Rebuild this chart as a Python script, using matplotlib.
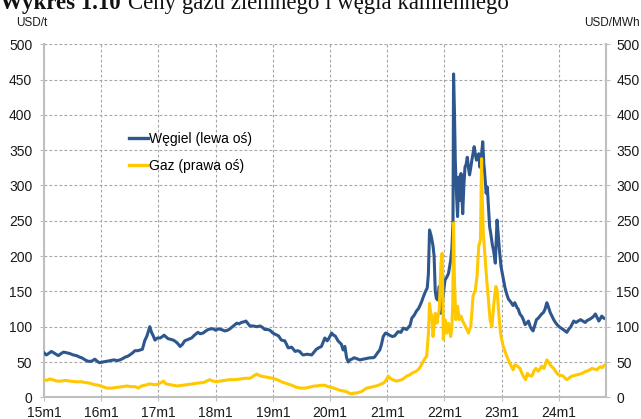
import matplotlib
matplotlib.use("Agg")
import matplotlib.pyplot as plt
from matplotlib.lines import Line2D

# ---------------- data ----------------
coal_t = [2015.00, 2015.04, 2015.08, 2015.13, 2015.19, 2015.25, 2015.30, 2015.34, 2015.40, 2015.45,
          2015.51, 2015.57, 2015.62, 2015.66, 2015.72, 2015.77, 2015.83, 2015.89, 2015.93, 2015.97,
          2016.03, 2016.10, 2016.16, 2016.22, 2016.28, 2016.33, 2016.38, 2016.42, 2016.46, 2016.50,
          2016.55, 2016.59, 2016.64, 2016.68, 2016.72, 2016.76, 2016.80, 2016.83, 2016.85, 2016.88,
          2016.91, 2016.94, 2016.98, 2017.03, 2017.07, 2017.10, 2017.14, 2017.17, 2017.22, 2017.26,
          2017.30, 2017.34, 2017.38, 2017.42, 2017.46, 2017.52, 2017.58, 2017.63, 2017.69, 2017.73,
          2017.78, 2017.83, 2017.87, 2017.92, 2017.96, 2018.00, 2018.05, 2018.10, 2018.16, 2018.21,
          2018.25, 2018.31, 2018.37, 2018.41, 2018.45, 2018.50, 2018.53, 2018.57, 2018.60, 2018.66,
          2018.72, 2018.78, 2018.82, 2018.86, 2018.91, 2018.95, 2019.00, 2019.05, 2019.10, 2019.15,
          2019.21, 2019.24, 2019.27, 2019.33, 2019.36, 2019.39, 2019.43, 2019.47, 2019.50, 2019.53,
          2019.60, 2019.68, 2019.72, 2019.76, 2019.80, 2019.85, 2019.88, 2019.91, 2019.95, 2019.97,
          2020.03, 2020.06, 2020.09, 2020.12, 2020.14, 2020.20, 2020.23, 2020.26, 2020.29, 2020.32,
          2020.35, 2020.38, 2020.42, 2020.46, 2020.52, 2020.58, 2020.64, 2020.70, 2020.75, 2020.78,
          2020.84, 2020.87, 2020.90, 2020.93, 2020.97, 2021.00, 2021.04, 2021.09, 2021.13, 2021.19,
          2021.24, 2021.28, 2021.34, 2021.40, 2021.43, 2021.47, 2021.51, 2021.55, 2021.60, 2021.63,
          2021.67, 2021.70, 2021.72, 2021.74, 2021.77, 2021.80, 2021.82, 2021.84, 2021.86, 2021.88,
          2021.91, 2021.94, 2021.97, 2022.01, 2022.04, 2022.07, 2022.11, 2022.13, 2022.15, 2022.16,
          2022.175, 2022.19, 2022.21, 2022.23, 2022.25, 2022.27, 2022.29, 2022.32, 2022.34, 2022.36,
          2022.38, 2022.40, 2022.42, 2022.44, 2022.46, 2022.48, 2022.50, 2022.52, 2022.54, 2022.56,
          2022.58, 2022.60, 2022.62, 2022.645, 2022.67, 2022.69, 2022.70, 2022.73, 2022.75, 2022.77,
          2022.79, 2022.81, 2022.84, 2022.86, 2022.89, 2022.91, 2022.92, 2022.94, 2022.96, 2022.99,
          2023.03, 2023.06, 2023.09, 2023.12, 2023.16, 2023.20, 2023.23, 2023.27, 2023.29, 2023.32,
          2023.35, 2023.38, 2023.41, 2023.44, 2023.47, 2023.50, 2023.53, 2023.55, 2023.58, 2023.61,
          2023.64, 2023.67, 2023.70, 2023.73, 2023.76, 2023.79, 2023.81, 2023.85, 2023.88, 2023.91,
          2023.94, 2023.98, 2024.02, 2024.06, 2024.11, 2024.14, 2024.17, 2024.21, 2024.26, 2024.30,
          2024.34, 2024.38, 2024.42, 2024.46, 2024.50, 2024.55, 2024.60, 2024.64, 2024.67, 2024.70,
          2024.73, 2024.75, 2024.79, 2024.82]
coal_v = [63, 60, 62, 65, 62, 59, 62, 64, 63, 62,
          60, 59, 57, 56, 53, 51, 51, 54, 51, 49,
          50, 51, 52, 53, 52, 53, 55, 57, 58, 60,
          63, 66, 66, 67, 68, 80, 87, 95, 100, 92,
          87, 81, 84, 84, 86, 88, 85, 83, 82, 81,
          79, 76, 72, 75, 80, 82, 84, 88, 92, 90,
          91, 94, 96, 97, 97, 95, 97, 96, 94, 95,
          97, 101, 105, 104, 106, 107, 108, 104, 101, 101,
          100, 101, 99, 96, 96, 95, 91, 89, 87, 81,
          80, 75, 70, 71, 68, 65, 66, 65, 62, 60,
          61, 60, 64, 68, 70, 72, 78, 84, 80, 82,
          91, 88, 87, 83, 80, 75, 67, 72, 56, 50,
          53, 54, 56, 55, 53, 54, 55, 56, 56, 57,
          64, 67, 75, 86, 91, 90, 88, 86, 87, 93,
          92, 98, 96, 102, 112, 116, 122, 126, 135, 142,
          150, 155, 175, 237, 228, 215, 200, 150, 140, 138,
          157, 119, 138, 166, 170, 175, 194, 210, 246, 458,
          407, 336, 290, 256, 312, 279, 317, 260, 300, 326,
          330, 340, 325, 315, 325, 336, 345, 355, 345, 336,
          340, 345, 326, 340, 362, 330, 322, 289, 298, 270,
          242, 232, 215, 208, 190, 230, 251, 232, 210, 185,
          168, 155, 146, 139, 135, 130, 134, 127, 125, 118,
          115, 110, 103, 105, 108, 100, 96, 94, 102, 110,
          112, 115, 118, 120, 125, 134, 130, 120, 115, 110,
          106, 102, 99, 97, 94, 92, 96, 100, 108, 106,
          108, 110, 108, 106, 109, 111, 114, 118, 113, 108,
          112, 115, 112, 111]

gas_t = [2015.00, 2015.05, 2015.10, 2015.15, 2015.22, 2015.30, 2015.38, 2015.45, 2015.55, 2015.65,
         2015.72, 2015.80, 2015.88, 2015.96, 2016.03, 2016.10, 2016.18, 2016.27, 2016.35, 2016.45,
         2016.53, 2016.60, 2016.65, 2016.70, 2016.76, 2016.85, 2016.92, 2016.97, 2017.05, 2017.09,
         2017.13, 2017.20, 2017.33, 2017.42, 2017.50, 2017.60, 2017.67, 2017.79, 2017.90, 2017.95,
         2018.02, 2018.08, 2018.17, 2018.25, 2018.35, 2018.43, 2018.52, 2018.60, 2018.66, 2018.72,
         2018.76, 2018.80, 2018.86, 2018.92, 2019.00, 2019.04, 2019.10, 2019.15, 2019.22, 2019.30,
         2019.36, 2019.42, 2019.50, 2019.56, 2019.62, 2019.68, 2019.72, 2019.76, 2019.85, 2019.91,
         2019.97, 2020.03, 2020.10, 2020.17, 2020.23, 2020.29, 2020.33, 2020.38, 2020.42, 2020.46,
         2020.50, 2020.55, 2020.60, 2020.64, 2020.70, 2020.75, 2020.80, 2020.84, 2020.90, 2020.95,
         2021.00, 2021.02, 2021.05, 2021.09, 2021.16, 2021.22, 2021.28, 2021.34, 2021.40, 2021.43,
         2021.48, 2021.51, 2021.55, 2021.57, 2021.60, 2021.63, 2021.66, 2021.69, 2021.72, 2021.74,
         2021.76, 2021.78, 2021.80, 2021.82, 2021.84, 2021.87, 2021.89, 2021.91, 2021.94, 2021.96,
         2021.975, 2021.98, 2022.00, 2022.01, 2022.04, 2022.07, 2022.09, 2022.11, 2022.13, 2022.145,
         2022.16, 2022.175, 2022.20, 2022.23, 2022.26, 2022.29, 2022.32, 2022.34, 2022.37, 2022.40,
         2022.42, 2022.44, 2022.46, 2022.48, 2022.50, 2022.54, 2022.57, 2022.60, 2022.63, 2022.65,
         2022.66, 2022.68, 2022.71, 2022.74, 2022.77, 2022.80, 2022.83, 2022.86, 2022.88, 2022.90,
         2022.92, 2022.95, 2022.97, 2022.99, 2023.03, 2023.06, 2023.09, 2023.14, 2023.20, 2023.23,
         2023.28, 2023.32, 2023.35, 2023.38, 2023.42, 2023.45, 2023.48, 2023.53, 2023.57, 2023.60,
         2023.64, 2023.67, 2023.70, 2023.74, 2023.77, 2023.79, 2023.82, 2023.85, 2023.88, 2023.91,
         2023.95, 2023.99, 2024.04, 2024.08, 2024.11, 2024.14, 2024.19, 2024.23, 2024.28, 2024.32,
         2024.37, 2024.41, 2024.45, 2024.49, 2024.54, 2024.58, 2024.62, 2024.67, 2024.70, 2024.73,
         2024.76, 2024.79, 2024.82]
gas_v = [25, 24, 26, 25, 23, 23, 24, 23, 22, 22,
         21, 20, 18, 17, 15, 13, 13, 14, 15, 16,
         15, 15, 13, 16, 17, 19, 18, 18, 21, 23,
         19, 18, 16, 17, 18, 19, 20, 21, 25, 23,
         22, 23, 24, 25, 25, 26, 27, 27, 30, 33,
         31, 30, 29, 28, 27, 26, 24, 22, 20, 18,
         16, 14, 13, 13, 14, 15, 16, 16, 17, 17,
         15, 14, 12, 10, 9, 8, 6, 5, 6, 6,
         7, 8, 11, 13, 14, 15, 16, 17, 19, 21,
         27, 30, 27, 25, 23, 24, 26, 30, 32, 34,
         36, 37, 40, 42, 46, 51, 55, 58, 90, 133,
         120, 115, 86, 100, 119, 105, 115, 124, 190, 204,
         130, 82, 95, 110, 91, 105, 95, 86, 100, 129,
         247, 167, 110, 129, 110, 115, 108, 105, 100, 95,
         91, 96, 100, 120, 143, 152, 171, 214, 223, 338,
         289, 232, 199, 166, 138, 109, 100, 129, 145, 157,
         152, 119, 100, 86, 72, 65, 58, 49, 39, 46,
         44, 41, 35, 30, 25, 34, 31, 30, 38, 41,
         37, 40, 44, 41, 48, 53, 50, 46, 43, 41,
         36, 32, 31, 30, 27, 25, 28, 30, 31, 32,
         33, 34, 36, 37, 39, 41, 40, 39, 42, 43,
         42, 45, 46]

year_ticks = [2015, 2016, 2017, 2018, 2019, 2020, 2021, 2022, 2023, 2024]
year_labels = ["15m1", "16m1", "17m1", "18m1", "19m1", "20m1", "21m1", "22m1", "23m1", "24m1"]
y_ticks = [0, 50, 100, 150, 200, 250, 300, 350, 400, 450, 500]

coal_label = "Węgiel (lewa oś)"
gas_label = "Gaz (prawa oś)"
title_bold = "Wykres 1.10"
title_rest = "Ceny gazu ziemnego i węgla kamiennego"

# ---------------- style ----------------
BLUE = "#2E578E"
GOLD = "#FFC800"
GRID = "#A6A6A6"
SPINE = "#BFBFBF"
SANS = ["Liberation Sans", "DejaVu Sans"]
SERIF = ["Liberation Serif", "DejaVu Serif"]
plt.rcParams["font.family"] = SANS

W, H = 641, 419
fig = plt.figure(figsize=(W / 100, H / 100), dpi=100)
ax = fig.add_axes([44 / W, (H - 397.3) / H, (606 - 44) / W, (397.3 - 44.3) / H])
ax2 = ax.twinx()

ax.plot(coal_t, coal_v, color=BLUE, lw=2.2, solid_joinstyle="round", zorder=3)
ax2.plot(gas_t, gas_v, color=GOLD, lw=2.2, solid_joinstyle="round", zorder=3)

for a in (ax, ax2):
    a.set_ylim(0, 500)
    a.set_yticks(y_ticks)
    a.set_xlim(2015.0, 2024.825)
    for s in a.spines.values():
        s.set_visible(False)

ax.set_xticks(year_ticks)
ax.set_xticklabels(year_labels)
ax.grid(True, which="major", axis="both", color=GRID, linestyle=(0, (2.5, 2.0)), linewidth=0.8)
ax.set_axisbelow(True)
ax.spines["left"].set_visible(True)
ax.spines["bottom"].set_visible(True)
ax2.spines["right"].set_visible(True)
for s in (ax.spines["left"], ax.spines["bottom"], ax2.spines["right"]):
    s.set_color(SPINE)
    s.set_linewidth(1.5)

ax.tick_params(axis="y", length=3, width=0.8, color=SPINE, pad=5.5, labelsize=10, labelcolor="#1a1a1a")
ax.tick_params(axis="x", length=3, width=0.8, color=SPINE, pad=3, labelsize=10, labelcolor="#1a1a1a")
ax2.tick_params(axis="y", length=3, width=0.8, color=SPINE, pad=4.5, labelsize=10, labelcolor="#1a1a1a")

# legend
handles = [Line2D([], [], color=BLUE, lw=2.4), Line2D([], [], color=GOLD, lw=2.4)]
ax.legend(handles, [coal_label, gas_label], loc="upper left",
          bbox_to_anchor=((129 - 44) / 562, (397.3 - 132) / 353),
          frameon=False, fontsize=10, handlelength=1.4, handletextpad=0.05,
          labelspacing=0.95, borderpad=0, borderaxespad=0)

# unit labels
fig.text(16 / W, (H - 22.7) / H, "USD/t", fontsize=8.5, ha="left", va="center", color="#1a1a1a")
fig.text(640 / W, (H - 22.7) / H, "USD/MWh", fontsize=8.5, ha="right", va="center", color="#1a1a1a")

# title (top partly cut off, as in the reference)
fig.text(0.0, (H - 9) / H, title_bold, fontsize=16.5, fontweight="bold", family=SERIF,
         ha="left", va="baseline", color="#111111")
fig.text(128 / W, (H - 9) / H, title_rest, fontsize=16.5, family=SERIF,
         ha="left", va="baseline", color="#111111")

fig.savefig("out.png", dpi=100)
